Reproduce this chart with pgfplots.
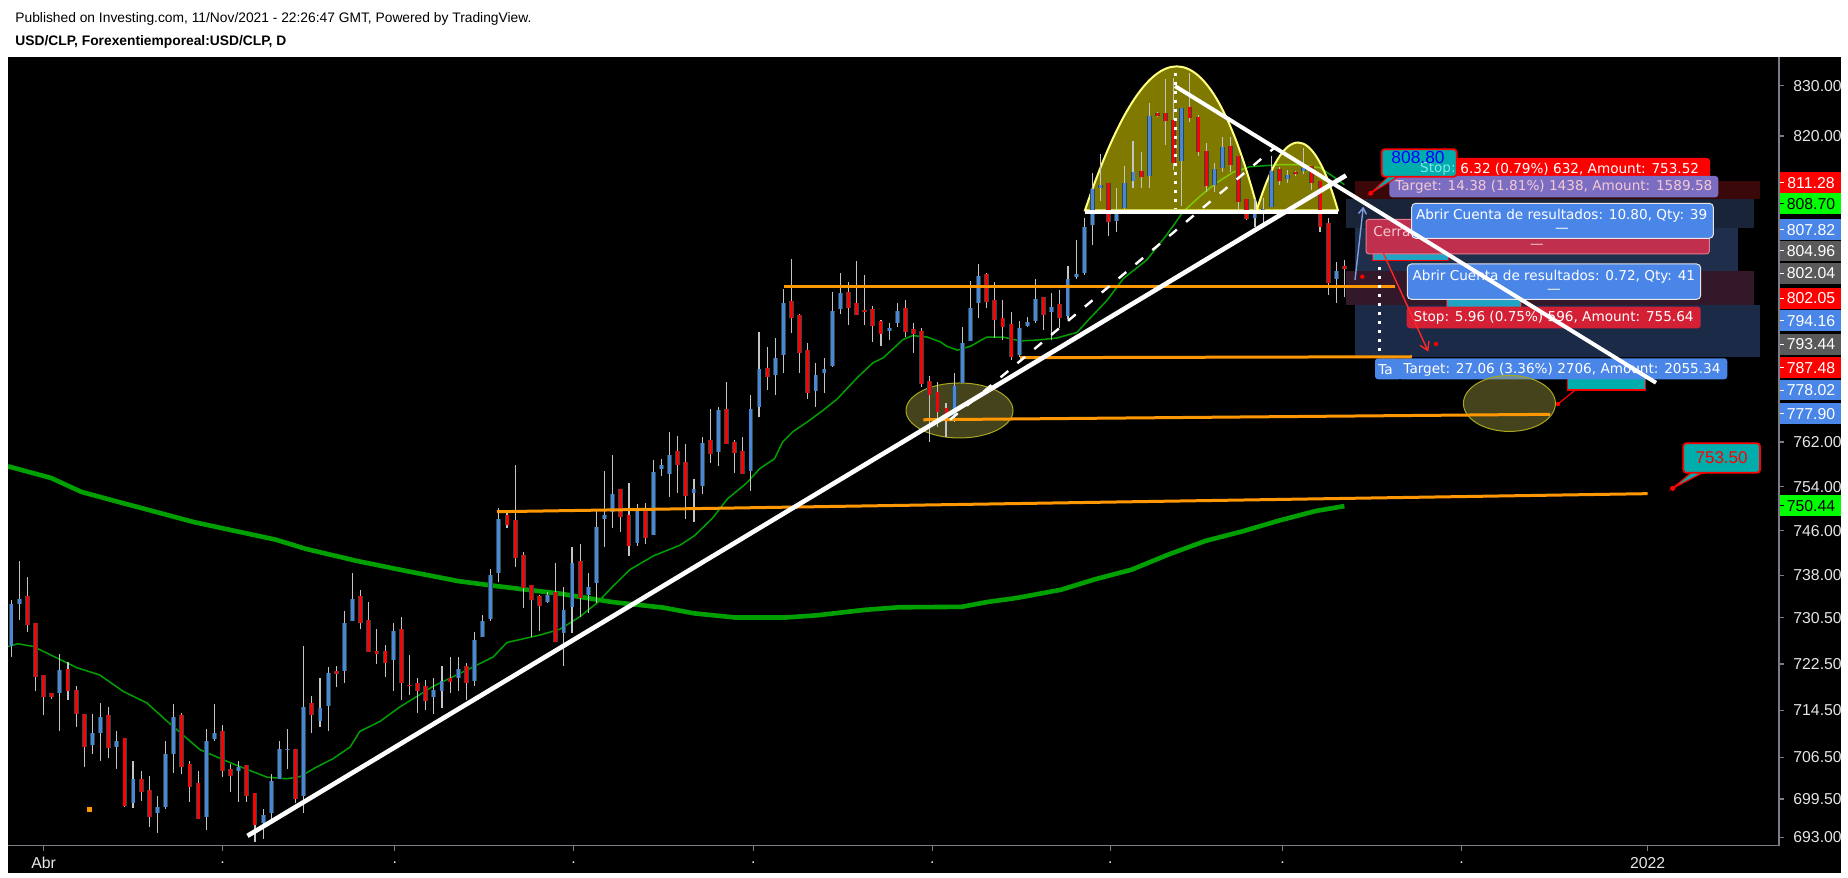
\documentclass[border=0pt]{standalone}
\usepackage{pgfplots}
\pgfplotsset{compat=1.18}
\usepackage{pgfplotstable}
\usepackage{fontspec}
\setmainfont{Liberation Sans}
\newfontfamily\dv{DejaVu Sans}
\usetikzlibrary{arrows.meta}

\definecolor{upc}{HTML}{4A86D6}
\definecolor{dnc}{HTML}{FF0000}
\definecolor{bodyedge}{HTML}{2C4A50}
\definecolor{wickc}{HTML}{C4C4C4}
\definecolor{mag}{HTML}{00A000}
\definecolor{tvorange}{HTML}{FF9800}
\definecolor{axgray}{HTML}{7A7D85}
\definecolor{labwhite}{HTML}{E6E6E6}
\definecolor{tvblue}{HTML}{4A86E8}
\definecolor{tvred}{HTML}{FF0000}
\definecolor{tvgreen}{HTML}{00FF00}
\definecolor{tvgray}{HTML}{5A5A5A}
\definecolor{labteal}{HTML}{00ADAD}
\definecolor{labteal2}{HTML}{22A3C4}
\definecolor{lablav}{HTML}{7B6EC2}
\definecolor{labpink}{HTML}{F6C9D2}
\definecolor{labcerra}{HTML}{C0304E}
\definecolor{labcerraB}{HTML}{E27A90}
\definecolor{labred2}{HTML}{D42035}
\definecolor{panred}{HTML}{3A0808}
\definecolor{panblueA}{HTML}{1A2438}
\definecolor{panblueB}{HTML}{1F2E4A}
\definecolor{panredB}{HTML}{33182A}
\definecolor{panblueC}{HTML}{1B2A46}
\definecolor{lblue}{HTML}{7E9EE0}
\definecolor{arcline}{HTML}{FFFF80}
\definecolor{ellline}{HTML}{A8A820}
\definecolor{stopcyan}{HTML}{7FE8E8}

\pgfplotstableread{
i o h l c
-4 725.5 733.7 723.7 732.9
-3 733.0 740.6 730.2 733.9
-2 734.3 737.8 728.0 729.2
-1 729.7 729.7 717.7 720.3
0 720.6 720.6 713.6 716.8
1 717.4 717.5 716.5 716.8
2 717.4 724.3 711.0 721.5
3 721.7 722.9 716.2 717.9
4 718.0 718.7 711.7 713.8
5 713.9 713.9 704.9 708.3
6 708.5 713.8 707.1 710.7
7 710.7 715.8 705.9 713.4
8 713.6 715.1 706.4 708.1
9 708.3 711.0 704.6 709.2
10 709.8 709.8 698.2 698.3
11 698.7 705.8 698.0 702.9
12 702.9 704.1 699.2 700.7
13 700.9 703.4 694.7 696.5
14 697.2 699.9 693.8 698.2
15 698.2 709.3 697.8 707.0
16 707.0 715.6 703.9 713.4
17 713.6 714.1 703.6 704.9
18 705.4 705.9 699.0 701.5
19 702.2 704.1 696.2 696.2
20 696.5 711.4 694.3 709.3
21 709.7 715.5 709.3 710.7
22 711.0 712.0 703.2 704.1
23 704.6 705.4 700.7 703.4
24 704.1 705.9 699.0 704.8
25 705.2 705.2 699.0 699.9
26 700.4 700.4 692.3 695.0
27 695.5 697.7 692.7 696.7
28 697.2 703.6 696.0 702.4
29 702.9 709.2 702.9 707.9
30 707.6 711.4 704.6 707.8
31 707.9 707.9 698.8 699.5
32 699.9 725.7 697.2 715.1
33 715.8 717.0 710.7 713.6
34 712.6 720.0 711.7 714.9
35 715.3 722.0 711.0 721.0
36 721.3 722.2 718.4 720.8
37 721.2 731.8 719.3 729.7
38 730.0 738.5 730.0 733.9
39 734.3 735.3 728.6 729.7
40 730.2 733.4 724.5 724.5
41 724.8 728.6 722.4 724.3
42 724.8 725.8 720.3 722.7
43 723.1 729.7 717.7 728.3
44 728.6 730.7 716.3 719.3
45 718.7 724.0 717.2 718.6
46 719.1 720.0 714.1 717.9
47 718.6 719.8 714.6 716.0
48 716.7 720.1 713.9 718.0
49 717.9 722.2 714.9 719.6
50 720.0 723.7 717.5 719.4
51 720.0 723.7 717.7 721.7
52 722.2 722.7 716.3 719.1
53 719.6 728.1 718.6 726.7
54 727.2 731.1 727.2 730.0
55 730.4 739.2 730.0 738.1
56 738.5 750.1 736.7 748.1
57 748.8 749.4 746.5 747.0
58 747.8 757.9 739.6 741.0
59 741.7 742.2 732.3 735.8
60 736.4 736.4 727.2 733.6
61 734.3 734.6 728.3 732.7
62 733.4 735.1 733.2 734.6
63 735.1 740.3 726.2 726.2
64 727.9 736.0 722.2 732.0
65 732.5 743.1 727.8 740.1
66 740.6 743.6 730.7 734.1
67 734.6 738.5 731.4 736.0
68 736.6 749.9 733.2 746.7
69 748.1 756.8 743.1 748.8
70 749.4 759.7 746.5 752.6
71 753.5 753.5 745.8 748.5
72 748.8 754.6 741.5 743.3
73 743.8 750.8 743.3 749.6
74 749.9 751.0 743.6 744.7
75 745.3 758.8 745.1 756.6
76 757.0 759.0 755.9 757.9
77 756.2 763.9 752.1 759.7
78 760.4 763.2 752.8 757.9
79 758.4 761.7 748.1 752.3
80 752.8 755.2 747.6 753.5
81 754.1 763.0 752.6 761.9
82 762.3 768.1 758.2 759.9
83 760.3 768.5 757.7 767.8
84 768.1 773.1 761.7 761.7
85 762.1 762.3 756.4 760.1
86 760.4 763.0 756.2 756.2
87 756.8 770.7 753.2 768.1
88 768.5 782.4 766.6 775.5
89 775.7 779.6 771.6 774.0
90 774.4 781.3 770.7 777.6
91 778.1 790.6 774.8 787.9
92 788.3 796.3 782.3 785.1
93 785.6 785.8 774.8 778.5
94 779.1 780.4 770.0 771.1
95 771.5 776.6 768.5 774.4
96 774.8 777.6 771.1 775.5
97 776.1 790.0 775.9 786.4
98 786.8 793.6 785.8 789.8
99 790.0 791.9 783.8 787.0
100 787.9 795.9 785.6 785.6
101 786.6 793.2 783.8 786.1
102 786.8 787.3 780.6 783.6
103 784.5 784.7 779.8 782.1
104 782.6 784.1 780.9 783.2
105 784.1 787.9 783.4 786.4
106 787.0 788.5 781.5 782.4
107 783.0 784.1 778.5 782.1
108 782.6 783.2 772.2 772.7
109 773.3 774.2 762.1 770.7
110 771.3 773.1 764.8 767.6
111 768.3 769.2 763.0 766.1
112 766.7 774.8 765.7 772.4
113 772.9 783.4 772.9 780.4
114 780.8 792.1 780.8 787.0
115 787.9 795.3 785.1 793.0
116 793.4 793.6 787.0 788.1
117 788.5 791.9 781.3 784.7
118 785.1 788.5 780.9 783.4
119 783.9 786.2 777.2 777.8
120 778.1 784.5 777.8 783.2
121 783.6 785.3 783.4 784.3
122 784.5 792.4 784.1 788.7
123 789.0 789.0 782.8 785.6
124 786.2 789.8 780.9 787.1
125 787.7 790.4 783.2 785.1
126 785.4 794.9 784.9 792.4
127 792.8 799.9 792.6 793.4
128 793.6 804.1 793.2 802.4
129 802.6 812.7 798.9 809.7
130 809.9 816.4 807.4 810.5
131 810.9 810.9 800.5 803.2
132 803.4 809.9 801.3 805.5
133 805.9 814.2 805.7 810.9
134 811.3 819.1 809.9 812.9
135 813.1 816.8 809.9 811.9
136 812.1 826.6 809.9 823.9
137 824.5 824.7 823.7 823.9
138 824.5 831.4 818.3 822.9
139 823.1 831.6 813.4 814.8
140 815.2 825.6 806.4 825.6
141 825.8 832.6 822.7 823.5
142 823.7 824.1 816.0 816.8
143 817.0 818.7 809.0 810.3
144 810.5 814.8 809.0 813.6
145 813.8 819.9 812.9 817.8
146 818.1 819.9 812.9 814.4
147 816.0 816.0 805.3 807.2
148 807.8 807.8 803.6 803.8
149 804.1 807.8 802.4 804.9
150 805.5 808.0 802.6 805.6
151 806.1 816.0 806.1 813.1
152 813.6 814.0 810.5 811.1
153 811.5 813.4 810.9 812.3
154 812.9 813.1 812.1 812.5
155 813.1 817.6 812.5 813.8
156 814.2 814.2 809.5 810.9
157 811.3 811.3 801.3 802.2
158 803.0 804.1 789.4 791.7
159 792.6 795.7 787.9 794.0
160 794.9 796.1 789.0 794.3
}\candles

\pgfplotsset{nomark/.style={only marks, mark=*, mark size=0pt, mark options={draw=none, fill=none}}}

\begin{document}
\begin{tikzpicture}
\useasboundingbox (0pt,0pt) rectangle (924pt,439pt);
\fill[white] (0pt,0pt) rectangle (924pt,439pt);
\fill[black] (4pt,2.5pt) rectangle (920.5pt,410.5pt);

% header
\node[anchor=base west, inner sep=0pt, font=\fontsize{6.9}{8}\selectfont] at (7.5pt,427.9pt) {Published on Investing.com, 11/Nov/2021 - 22:26:47 GMT, Powered by TradingView.};
\node[anchor=base west, inner sep=0pt, font=\bfseries\fontsize{6.9}{8}\selectfont] at (7.5pt,416.3pt) {USD/CLP, Forexentiemporeal:USD/CLP, D};

% position-tool panels
\fill[panred] (677.5pt,339.35pt) rectangle (880pt,348.65pt);
\fill[panblueA] (673pt,325pt) rectangle (877pt,339.35pt);
\fill[panblueB] (677.5pt,303.5pt) rectangle (869pt,325pt);
\fill[panredB] (673pt,286.5pt) rectangle (877pt,303.5pt);
\fill[panblueC] (677.5pt,260.5pt) rectangle (880pt,286.5pt);

% labels of the drawing tools
\tikzset{lab/.style={inner sep=0pt, font=\dv\fontsize{6.8}{8}\selectfont}}
\fill[tvred, rounded corners=1.5pt] (707.5pt,349.85pt) rectangle (855pt,360pt);
\node[lab, text=white, anchor=west] at (730pt,354.4pt) {6.32 (0.79\%) 632, Amount: 753.52};
\fill[lablav, rounded corners=1.5pt] (694.65pt,340.35pt) rectangle (859.15pt,351pt);
\node[lab, text=labpink] at (776.9pt,345.4pt) {Target: 14.38 (1.81\%) 1438, Amount: 1589.58};
\filldraw[fill=labteal, draw=red, line width=0.9pt, rounded corners=1.5pt] (690.85pt,350.65pt) rectangle (728.35pt,364.35pt);
\node[lab, text=stopcyan, anchor=east] at (728pt,354.4pt) {Stop:};
\node[inner sep=0pt, font=\fontsize{8.7}{10}\selectfont, text=blue] at (709pt,360.2pt) {808.80};
\filldraw[fill=labteal, draw=red, line width=0.5pt] (694pt,350.6pt) -- (685.35pt,342.35pt) -- (699pt,350.6pt) -- cycle;
\fill[red] (685.35pt,342.35pt) circle (1.2pt);

\filldraw[fill=labteal2, draw=red, line width=0.5pt] (686.35pt,308.65pt) rectangle (724.15pt,313.5pt);
\filldraw[fill=labcerra, draw=labcerraB, line width=0.5pt, rounded corners=1.5pt] (683pt,312pt) rectangle (854.65pt,329.35pt);
\node[lab, text=labpink, anchor=west] at (686.5pt,323.4pt) {Cerra};
\node[lab, text=labpink] at (768.5pt,315.6pt) {—};
\filldraw[fill=tvblue, draw=labwhite, line width=0.5pt, rounded corners=2pt] (705.85pt,319.85pt) rectangle (856.65pt,337.35pt);
\node[lab, text=white] at (780.8pt,331.2pt) {Abrir Cuenta de resultados: 10.80, Qty: 39};
\node[lab, text=white] at (781pt,323.6pt) {—};

\filldraw[fill=labteal2, draw=red, line width=0.5pt] (723.35pt,284pt) rectangle (760.85pt,289pt);
\filldraw[fill=tvblue, draw=labwhite, line width=0.5pt, rounded corners=2pt] (703.65pt,289.35pt) rectangle (850.35pt,307pt);
\node[lab, text=white] at (776.9pt,300.8pt) {Abrir Cuenta de resultados: 0.72, Qty: 41};
\node[lab, text=white] at (776.9pt,293.1pt) {—};
\fill[labred2, rounded corners=1.5pt] (703.35pt,274.85pt) rectangle (850.35pt,285.65pt);
\node[lab, text=white] at (776.8pt,280.1pt) {Stop: 5.96 (0.75\%) 596, Amount: 755.64};

\draw[red!85!white, line width=0.7pt, -{Straight Barb[length=4pt,width=5pt]}] (691.65pt,312.35pt) -- (714.15pt,263.15pt);
\fill[red] (718pt,267pt) circle (1.1pt);
\draw[lblue, line width=0.7pt, -{Straight Barb[length=3pt,width=4pt]}] (677.5pt,299pt) -- (681.65pt,335.65pt);
\fill[red] (681.15pt,300.65pt) circle (1.1pt);

\filldraw[fill=labteal, draw=red, line width=0.7pt] (783.75pt,244pt) rectangle (822.65pt,255.15pt);
\draw[red, line width=0.6pt] (788pt,244.3pt) -- (779pt,237pt);
\fill[red] (779pt,237pt) circle (1.1pt);
\fill[tvblue, rounded corners=1.5pt] (687.5pt,249.35pt) rectangle (700.85pt,259.85pt);
\node[lab, text=white, anchor=west] at (689pt,254.3pt) {Ta};
\fill[tvblue, rounded corners=1.5pt] (699.15pt,249.35pt) rectangle (863.65pt,259.85pt);
\node[lab, text=white] at (781pt,254.3pt) {Target: 27.06 (3.36\%) 2706, Amount: 2055.34};

\filldraw[fill=labteal, draw=red, line width=0.6pt] (846pt,203pt) -- (836.35pt,194.85pt) -- (852pt,203pt) -- cycle;
\filldraw[fill=labteal, draw=red, line width=0.9pt, rounded corners=1.5pt] (841.65pt,202.65pt) rectangle (880pt,217.35pt);
\fill[red] (836.35pt,194.85pt) circle (1.3pt);
\node[inner sep=0pt, font=\fontsize{8.5}{10}\selectfont, text=red] at (860.8pt,210.3pt) {753.50};

\begin{axis}[
  at={(4pt,16pt)}, anchor=south west,
  scale only axis, width=885.5pt, height=394.5pt,
  xmin=-4.379, xmax=213.46,
  ymode=log, ymin=691.68, ymax=835.79,
  axis x line*=bottom, axis y line*=right,
  axis line style={draw=axgray, line width=0.6pt},
  tick style={draw=axgray, line width=0.6pt},
  tick align=outside, major tick length=2.5pt,
  xminorticks=false, yminorticks=false,
  xtick={0,22,43.2,65.2,87.3,109.3,131.2,152.4,174.4,197.3},
  xticklabels={Abr,.,.,.,.,.,.,.,.,2022},
  ytick={693,699.5,706.5,714.5,722.5,730.5,738,746,754,762,820,830},
  yticklabels={693.00,699.50,706.50,714.50,722.50,730.50,738.00,746.00,754.00,762.00,820.00,830.00},
  ticklabel style={font=\fontsize{7.9}{9}\selectfont, text=labwhite},
  yticklabel style={anchor=west, inner sep=0pt, xshift=4.5pt},
  xticklabel style={anchor=center, inner sep=0pt, yshift=-6.3pt},
  clip=true,
]
% 200-day moving average
\addplot[mag, line width=2.3pt, mark=none] coordinates {
(-4.38,757.6) (0.91,755.5) (4.67,753.0) (9.07,751.2) (11.59,750.2) (18.49,747.5) (22.88,746.2) (28.52,744.4) (32.28,742.7) (38.55,740.6) (44.82,738.7) (51.09,737.0) (56.14,736.1) (63.64,734.8) (69.91,733.3) (76.19,732.3) (80.0,731.3) (85.04,730.6) (91.32,730.6) (95.13,731.0) (101.03,731.9) (105.14,732.4) (112.88,732.5) (116.07,733.3) (119.7,734.0) (125.17,735.5) (129.26,737.3) (133.81,739.0) (138.36,741.7) (142.92,744.1) (147.47,745.9) (152.0,747.8) (156.56,749.6) (160.0,750.44)};
% 20-day moving average
\addplot[mag, line width=0.75pt, mark=none] coordinates {
(-4.38,725.6) (-3.15,726.0) (-1.3,725.6) (0.8,724.1) (4.1,721.8) (6.9,720.6) (9.8,717.7) (12.7,715.8) (15.2,712.6) (19.2,707.8) (23.3,705.4) (27.5,703.1) (29.9,702.9) (31.5,703.2) (33.6,704.9) (35.6,706.3) (37.7,708.3) (38.9,710.9) (41.4,712.6) (43.8,715.1) (47.9,718.6) (52.1,721.5) (55.3,723.7) (57.0,726.2) (61.1,727.6) (63.5,728.5) (65.9,730.7) (68.1,733.2) (70.0,736.0) (72.1,739.0) (75.0,741.5) (78.3,743.4) (80.1,745.2) (82.3,748.3) (84.1,751.7) (86.5,754.6) (88.1,757.2) (89.9,759.0) (90.9,762.0) (92.2,764.0) (93.9,765.7) (95.9,767.9) (97.6,770.0) (100.1,773.9) (102.0,776.6) (103.3,777.6) (105.7,781.1) (106.9,781.7) (108.7,781.5) (110.3,780.6) (111.1,779.8) (112.4,779.1) (114.0,779.8) (116.0,781.5) (118.0,781.5) (120.1,780.8) (122.2,780.9) (124.6,781.3) (127.1,782.4) (128.7,785.1) (130.8,788.5) (132.8,792.6) (135.7,796.1) (138.2,800.9) (140.1,805.1) (142.2,808.2) (144.3,810.9) (146.3,812.9) (148.4,814.0) (152.1,814.4) (154.5,814.4) (157.0,813.8) (158.6,812.1) (160.0,810.5)};

% head and shoulders arcs
\filldraw[fill=yellow, fill opacity=0.5, draw=arcline, line width=1pt]
  (axis cs:128.09,805.5) .. controls (axis cs:136.04,843.5) and (axis cs:143.14,843.5) .. (axis cs:149.37,805.5) -- cycle;
\filldraw[fill=yellow, fill opacity=0.5, draw=arcline, line width=1pt]
  (axis cs:149.21,805.5) .. controls (axis cs:152.66,823.2) and (axis cs:155.99,823.2) .. (axis cs:159.21,805.5) -- cycle;
% ellipses
\filldraw[fill=yellow!60!black, fill opacity=0.42, draw=ellline, line width=0.5pt] (axis cs:112.66,767.85) ellipse [x radius=26.75pt, y radius=13.75pt];
\filldraw[fill=yellow!60!black, fill opacity=0.42, draw=ellline, line width=0.5pt] (axis cs:180.3,769.2) ellipse [x radius=23pt, y radius=14pt];

% candles: wicks
\addplot[nomark, error bars/.cd, y dir=plus, y explicit, error mark=none,
  error bar style={draw=wickc, color=wickc, line width=0.55pt}]
  table[x=i, y=l, y error plus expr={\thisrow{h}-\thisrow{l}}] {\candles};
% up bodies
\addplot[nomark, unbounded coords=discard, error bars/.cd, y dir=plus, y explicit, error mark=none,
  error bar style={draw=bodyedge, color=bodyedge, line width=2.4pt}]
  table[x expr={\thisrow{c}>=\thisrow{o} ? \thisrow{i} : nan}, y expr={min(\thisrow{o},\thisrow{c})}, y error plus expr={max(abs(\thisrow{c}-\thisrow{o}),0.3)}] {\candles};
\addplot[nomark, unbounded coords=discard, error bars/.cd, y dir=plus, y explicit, error mark=none,
  error bar style={draw=upc, color=upc, line width=1.5pt}]
  table[x expr={\thisrow{c}>=\thisrow{o} ? \thisrow{i} : nan}, y expr={min(\thisrow{o},\thisrow{c})}, y error plus expr={max(abs(\thisrow{c}-\thisrow{o}),0.3)}] {\candles};
% down bodies
\addplot[nomark, unbounded coords=discard, error bars/.cd, y dir=plus, y explicit, error mark=none,
  error bar style={draw=bodyedge, color=bodyedge, line width=2.4pt}]
  table[x expr={\thisrow{c}<\thisrow{o} ? \thisrow{i} : nan}, y expr={min(\thisrow{o},\thisrow{c})}, y error plus expr={max(abs(\thisrow{c}-\thisrow{o}),0.3)}] {\candles};
\addplot[nomark, unbounded coords=discard, error bars/.cd, y dir=plus, y explicit, error mark=none,
  error bar style={draw=dnc, color=dnc, line width=1.5pt}]
  table[x expr={\thisrow{c}<\thisrow{o} ? \thisrow{i} : nan}, y expr={min(\thisrow{o},\thisrow{c})}, y error plus expr={max(abs(\thisrow{c}-\thisrow{o}),0.3)}] {\candles};

% orange levels
\addplot[tvorange, line width=1.5pt, mark=none] coordinates {(91.07,791.2) (166.2,791.2)};
\addplot[tvorange, line width=1.5pt, mark=none] coordinates {(120.1,777.6) (168.3,777.8)};
\addplot[tvorange, line width=1.5pt, mark=none] coordinates {(108.2,766.1) (185.3,767.2)};
\addplot[tvorange, line width=1.5pt, mark=none] coordinates {(55.77,749.4) (197.3,752.6)};
\addplot[only marks, mark=square*, mark size=1pt, color=tvorange] coordinates {(5.66,697.7)};

% trend lines
\addplot[white, line width=2.3pt, mark=none] coordinates {(25.08,693.3) (160.2,812.3)};
\addplot[white, line width=1.2pt, mark=none, dash pattern=on 5pt off 6pt] coordinates {(111.49,766.1) (151.47,817.8)};
\addplot[white, line width=2pt, mark=none] coordinates {(128.09,805.1) (159.21,805.1)};
\addplot[white, line width=1.5pt, mark=none, dash pattern=on 1.5pt off 3pt] coordinates {(139.2,832.6) (139.2,805.7)};
\addplot[white, line width=1.5pt, mark=none, dash pattern=on 1.5pt off 3pt] coordinates {(164.3,794.8) (164.3,778.5)};
\addplot[white, line width=2pt, mark=none] coordinates {(139.17,829.9) (198.33,772.9)};
\end{axis}

% coloured price labels on the scale
\foreach \yy/\txt/\bg/\fg in {347.65/811.28/tvred/white, 337.05/808.70/tvgreen/black, 324.1/807.82/tvblue/white, 313.5/804.96/tvgray/white, 302.3/802.04/tvgray/white, 289.9/802.05/tvred/white, 278.7/794.16/tvblue/white, 266.9/793.44/tvgray/white, 255.15/787.48/tvred/white, 243.95/778.02/tvblue/white, 232.15/777.90/tvblue/white, 186.2/750.44/tvgreen/black}{
  \fill[\bg] (889.8pt,\yy pt-5.2pt) rectangle (920.5pt,\yy pt+5.2pt);
  \draw[\fg, line width=0.5pt] (889.8pt,\yy pt) -- (891.8pt,\yy pt);
  \node[inner sep=0pt, font=\fontsize{7.9}{9}\selectfont, text=\fg] at (905.5pt,\yy pt) {\txt};
}
\end{tikzpicture}
\end{document}
